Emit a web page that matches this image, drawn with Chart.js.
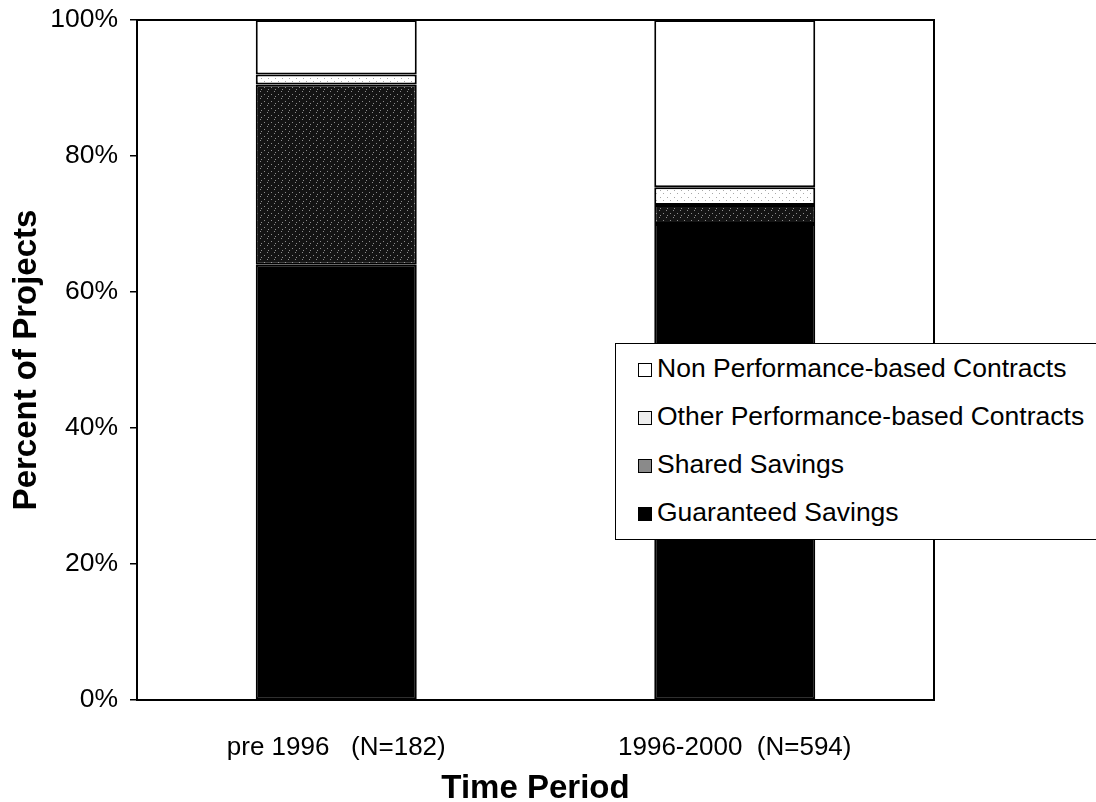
<!DOCTYPE html>
<html>
<head>
<meta charset="utf-8">
<script src="https://cdn.jsdelivr.net/npm/chart.js@4.4.1/dist/chart.umd.min.js"></script>
<style>
    html, body { margin: 0; padding: 0; background: #fff; overflow: hidden; }
    #wrap { position: relative; width: 1096px; height: 802px; }
    #legende {
        position: absolute; left: 615px; top: 343px; width: 500px; height: 197px;
        border: 1px solid #000; background: #fff; box-sizing: border-box;
        font-family: "Liberation Sans", Arial, sans-serif; font-size: 26.5px; color: #000;
        padding-top: 9px;
    }
    .item { height: 48px; line-height: 30px; display: flex; align-items: flex-start; padding-left: 22px; }
    .carre { width: 12px; height: 12px; border: 1.5px solid #000; margin-right: 5px; margin-top: 10px; flex: none; }
</style>
</head>
<body>
<div id="wrap">
    <canvas id="graphique" width="1096" height="802"></canvas>
    <div id="legende"></div>
</div>
<script>
const periodes = ['pre 1996   (N=182)', '1996-2000  (N=594)'];
const garanties = [64, 70];
const partages = [26.5, 2.8];
const autresPerf = [1.5, 2.6];
const nonPerf = [8, 24.6];
const graduations = ['0%', '20%', '40%', '60%', '80%', '100%'];

const police = '"Liberation Sans", Arial, sans-serif';

// motifs mouchetés (fixes, pas aléatoires)
function motif(fond, points, couleur) {
    const c = document.createElement('canvas');
    c.width = 7; c.height = 7;
    const g = c.getContext('2d');
    g.fillStyle = fond;
    g.fillRect(0, 0, 7, 7);
    g.fillStyle = couleur;
    points.forEach(p => g.fillRect(p[0], p[1], 1, 1));
    return g.createPattern(c, 'repeat');
}

const ctx = document.getElementById('graphique').getContext('2d');
const motifPartage = motif('#141414', [[1, 0], [5, 3], [2, 5]], '#8c8c8c');
const motifAutre = motif('#ffffff', [[2, 1], [5, 4]], '#a8a8a8');

const series = [
    { label: 'Guaranteed Savings', data: garanties, bg: '#000000', carre: '#000' },
    { label: 'Shared Savings', data: partages, bg: motifPartage, carre: '#8a8a8a' },
    { label: 'Other Performance-based Contracts', data: autresPerf, bg: motifAutre, carre: '#eeeeee' },
    { label: 'Non Performance-based Contracts', data: nonPerf, bg: '#ffffff', carre: '#fff' }
];

const cadre = {
    id: 'cadre',
    afterDatasetsDraw(chart) {
        const a = chart.chartArea;
        const g = chart.ctx;
        g.save();
        g.strokeStyle = '#000';
        g.lineWidth = 2;
        g.strokeRect(a.left, a.top, a.right - a.left, a.bottom - a.top);
        g.restore();
    }
};

new Chart(ctx, {
    type: 'bar',
    data: {
        labels: periodes,
        datasets: series.map(s => ({
            label: s.label,
            data: s.data,
            backgroundColor: s.bg,
            borderColor: '#000',
            borderWidth: 2,
            borderSkipped: false,
            categoryPercentage: 1,
            barPercentage: 0.404
        }))
    },
    options: {
        responsive: false,
        animation: false,
        events: [],
        layout: { padding: { left: 0, right: 162, top: 20, bottom: 0 } },
        plugins: { legend: { display: false }, tooltip: { enabled: false } },
        scales: {
            x: {
                stacked: true,
                grid: { display: false },
                border: { display: false },
                ticks: { color: '#000', font: { family: police, size: 26 }, padding: 24 },
                title: { display: true, text: 'Time Period', color: '#000', font: { family: police, size: 33, weight: 'bold', lineHeight: 0.8 }, padding: { top: 0, bottom: 0 } },
                afterFit(scale) { scale.height = 102; }
            },
            y: {
                stacked: true,
                min: 0,
                max: 100,
                afterBuildTicks(scale) {
                    scale.ticks = graduations.map(t => ({ value: parseFloat(t) }));
                },
                grid: { drawOnChartArea: false, drawTicks: true, tickLength: 7, color: '#000', lineWidth: 1.5 },
                border: { display: false },
                ticks: {
                    color: '#000',
                    font: { family: police, size: 26.5 },
                    padding: 12,
                    callback: (v, i) => graduations[i]
                },
                title: { display: true, text: 'Percent of Projects', color: '#000', font: { family: police, size: 33, weight: 'bold', lineHeight: 1 }, padding: { top: 10, bottom: 0 } },
                afterFit(scale) {
                    scale.width = 137;
                    scale.paddingTop = 0;
                    scale.paddingBottom = 0;
                }
            }
        }
    },
    plugins: [cadre]
});

// légende dans l'ordre inverse de l'empilement
const legende = document.getElementById('legende');
series.slice().reverse().forEach(s => {
    const div = document.createElement('div');
    div.className = 'item';
    const carre = document.createElement('span');
    carre.className = 'carre';
    carre.style.background = s.carre;
    const texte = document.createElement('span');
    texte.textContent = s.label;
    div.appendChild(carre);
    div.appendChild(texte);
    legende.appendChild(div);
});
</script>
</body>
</html>
